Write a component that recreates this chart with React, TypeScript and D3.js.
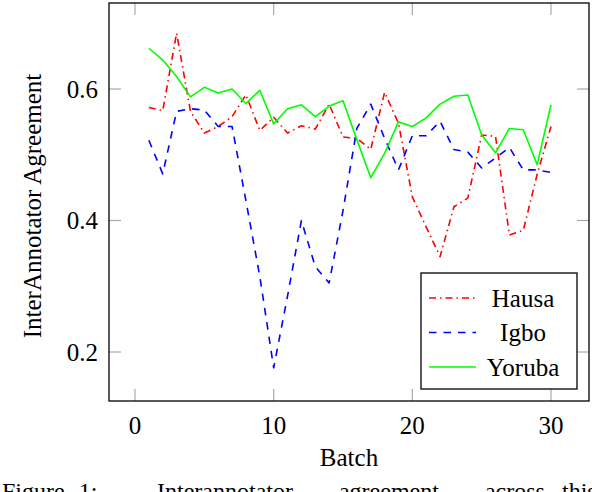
import * as d3 from "d3";

const batches = [1, 2, 3, 4, 5, 6, 7, 8, 9, 10, 11, 12, 13, 14, 15, 16, 17, 18, 19, 20, 21, 22, 23, 24, 25, 26, 27, 28, 29, 30];
const hausa = [0.572, 0.567, 0.685, 0.566, 0.533, 0.543, 0.558, 0.591, 0.537, 0.557, 0.533, 0.544, 0.539, 0.577, 0.527, 0.525, 0.508, 0.595, 0.548, 0.436, 0.39, 0.345, 0.421, 0.434, 0.53, 0.528, 0.378, 0.385, 0.47, 0.543];
const igbo = [0.522, 0.471, 0.566, 0.57, 0.568, 0.543, 0.543, 0.43, 0.315, 0.176, 0.285, 0.4, 0.33, 0.305, 0.415, 0.54, 0.577, 0.525, 0.477, 0.529, 0.529, 0.551, 0.508, 0.504, 0.48, 0.495, 0.511, 0.477, 0.477, 0.473];
const yoruba = [0.662, 0.644, 0.619, 0.588, 0.6025, 0.594, 0.6, 0.578, 0.598, 0.547, 0.57, 0.576, 0.558, 0.574, 0.582, 0.523, 0.465, 0.502, 0.55, 0.543, 0.556, 0.577, 0.589, 0.591, 0.53, 0.503, 0.54, 0.538, 0.485, 0.576];

const xTicks = [0, 10, 20, 30];
const yTicks = [0.2, 0.4, 0.6];

const series = [
  { name: "Hausa", values: hausa, color: "#ff0000", dash: "7,4,1.5,4" },
  { name: "Igbo", values: igbo, color: "#0000ff", dash: "7.5,7" },
  { name: "Yoruba", values: yoruba, color: "#00ff00", dash: "none" },
];

const W = 592;
const H = 492;
const left = 109, right = 589, top = 3, bottom = 401;
const font = "'Liberation Serif', 'Times New Roman', serif";
const tickLen = 12;

export default function App() {
  const x = d3.scaleLinear().domain([-1.875, 32.74]).range([left, right]);
  const y = d3.scaleLinear().domain([0.1255, 0.7308]).range([bottom, top]);

  const line = d3.line<number>()
    .x((_, i) => x(batches[i]))
    .y((d) => y(d));

  // legend placement
  const lg = { x: 421, y: 273, w: 156, h: 116 };
  const rowY = [298, 332.5, 367];

  return (
    <svg width={W} height={H} style={{ position: "absolute", left: 0, top: 0, background: "#fff" }}>
      {/* tick marks, inside on all four sides */}
      <g stroke="#aaa" strokeWidth={1.2}>
        {xTicks.map((t) => (
          <g key={"xt" + t}>
            <line x1={x(t)} x2={x(t)} y1={bottom} y2={bottom - tickLen} />
            <line x1={x(t)} x2={x(t)} y1={top} y2={top + tickLen} />
          </g>
        ))}
        {yTicks.map((t) => (
          <g key={"yt" + t}>
            <line x1={left} x2={left + tickLen} y1={y(t)} y2={y(t)} />
            <line x1={right} x2={right - tickLen} y1={y(t)} y2={y(t)} />
          </g>
        ))}
      </g>

      {series.map((s) => (
        <path
          key={s.name}
          d={line(s.values) ?? ""}
          fill="none"
          stroke={s.color}
          strokeWidth={1.6}
          strokeDasharray={s.dash}
          strokeLinejoin="round"
        />
      ))}

      <rect x={left} y={top} width={right - left} height={bottom - top} fill="none" stroke="#000" strokeWidth={1.3} />

      {/* tick labels */}
      <g fontFamily={font} fontSize={25} fill="#000">
        {xTicks.map((t) => (
          <text key={"xl" + t} x={x(t)} y={434} textAnchor="middle">{t}</text>
        ))}
        {yTicks.map((t) => (
          <text key={"yl" + t} x={98} y={y(t)} dy="0.35em" textAnchor="end">{t.toFixed(1)}</text>
        ))}
        <text x={(left + right) / 2} y={466} textAnchor="middle">Batch</text>
        <text transform={`translate(41, ${(top + bottom) / 2 + 4}) rotate(-90)`} textAnchor="middle">
          InterAnnotator Agreement
        </text>
      </g>

      {/* legend */}
      <g>
        <rect x={lg.x} y={lg.y} width={lg.w} height={lg.h} fill="#fff" stroke="#000" strokeWidth={1.3} />
        {series.map((s, i) => (
          <g key={"lg" + s.name}>
            <line x1={429} x2={476} y1={rowY[i]} y2={rowY[i]} stroke={s.color} strokeWidth={1.6} strokeDasharray={s.dash} />
            <text x={523} y={rowY[i]} dy="0.35em" textAnchor="middle" fontFamily={font} fontSize={25}>{s.name}</text>
          </g>
        ))}
      </g>

      {/* figure caption, cut off by the bottom edge as in the source */}
      <text y={499} fontFamily={font} fontSize={24} fill="#000">
        <tspan x={2} wordSpacing={8}>Figure 1:</tspan>
        <tspan x={157} wordSpacing={40}>Interannotator agreement across</tspan>
        <tspan x={562}>this</tspan>
      </text>
    </svg>
  );
}
